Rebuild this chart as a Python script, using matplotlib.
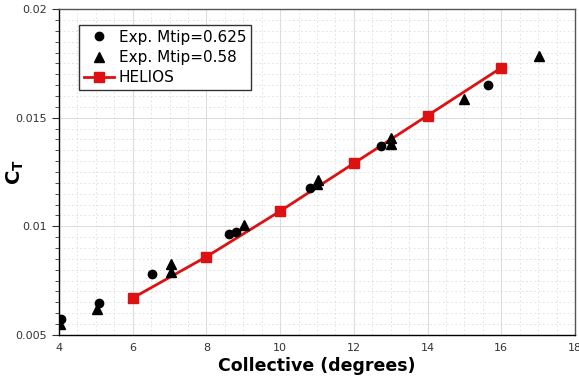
import numpy as np
import matplotlib
matplotlib.use("Agg")
import matplotlib.pyplot as plt
from matplotlib.ticker import MultipleLocator, FuncFormatter

# Experimental data, Mtip = 0.625
exp1_coll = [4.05, 5.08, 6.52, 8.6, 8.8, 10.82, 12.75, 15.63]
exp1_ct = [0.00572, 0.00649, 0.00779, 0.00966, 0.00975, 0.01176, 0.01371, 0.01653]

# Experimental data, Mtip = 0.58
exp2_coll = [4.02, 5.03, 7.03, 7.05, 9.01, 11.02, 11.0, 13.0, 13.0, 15.0, 17.02]
exp2_ct = [0.00548, 0.00617, 0.00827, 0.00790, 0.01008, 0.01215, 0.01195, 0.01408, 0.01378, 0.01588, 0.01782]

# HELIOS prediction
helios_coll = [6, 8, 10, 12, 14, 16]
helios_ct = [0.0067, 0.0086, 0.0107, 0.0129, 0.0151, 0.0173]

fig = plt.figure(figsize=(5.79, 3.81), dpi=100)
ax = fig.add_axes([0.102, 0.121, 0.891, 0.855])

ax.plot(exp1_coll, exp1_ct, 'o', color='black', markersize=6, label='Exp. Mtip=0.625', zorder=3)
ax.plot(exp2_coll, exp2_ct, '^', color='black', markersize=7, label='Exp. Mtip=0.58', zorder=3)
ax.plot(helios_coll, helios_ct, '-s', color='#dd1111', lw=2, markersize=7.5, label='HELIOS', zorder=2)

ax.set_xlim(4, 18)
ax.set_ylim(0.005, 0.02)
ax.xaxis.set_major_locator(MultipleLocator(2))
ax.xaxis.set_minor_locator(MultipleLocator(0.5))
ax.yaxis.set_major_locator(MultipleLocator(0.005))
ax.yaxis.set_minor_locator(MultipleLocator(0.0005))
ax.yaxis.set_major_formatter(FuncFormatter(lambda v, p: '%g' % round(v, 4)))

ax.grid(which='major', color='#dddddd', lw=0.8)
ax.grid(which='minor', color='#dddddd', lw=0.6, linestyle=(0, (2, 3)))
ax.set_axisbelow(True)

ax.tick_params(which='both', labelsize=8, labelcolor='#333333', colors='#333333')
ax.tick_params(axis='x', which='both', length=0, pad=6)
ax.tick_params(axis='y', which='major', length=5, direction='out')
ax.tick_params(axis='y', which='minor', length=3, direction='out')

for s in ax.spines.values():
    s.set_color('#555555')
    s.set_linewidth(1.0)
ax.spines['left'].set_color('black')
ax.spines['bottom'].set_color('black')

ax.set_xlabel('Collective (degrees)', fontsize=12.5, fontweight='bold', labelpad=3)
ax.set_ylabel(r'C$_\mathbf{T}$', fontsize=14, fontweight='bold')
ax.yaxis.set_label_coords(-0.064, 0.5)

leg = ax.legend(loc='upper left', bbox_to_anchor=(0.039, 0.951), fontsize=11,
                frameon=True, fancybox=False, framealpha=1, edgecolor='#333333',
                handlelength=2.0, handletextpad=0.3, borderpad=0.3, labelspacing=0.35,
                borderaxespad=0)
leg.get_frame().set_linewidth(1.0)

fig.savefig('out.png', dpi=100)
